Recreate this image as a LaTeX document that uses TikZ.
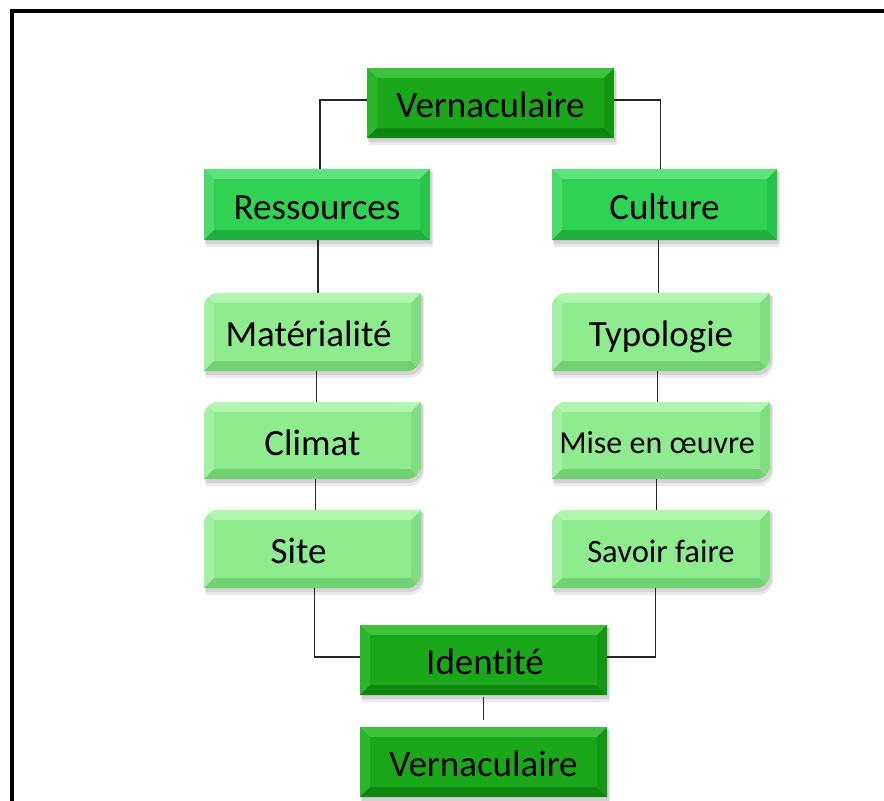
\documentclass[tikz,border=0pt]{standalone}
\usepackage{fontspec}
\setmainfont{Carlito}[Ligatures=NoCommon]

% palettes: face, top bevel, left bevel, bottom bevel, right bevel
\definecolor{darkface}{RGB}{26,168,26}
\definecolor{darktop}{RGB}{62,194,62}
\definecolor{darkleft}{RGB}{44,182,44}
\definecolor{darkbot}{RGB}{16,134,16}
\definecolor{darkright}{RGB}{20,152,20}
\definecolor{medface}{RGB}{48,210,84}
\definecolor{medtop}{RGB}{96,226,122}
\definecolor{medleft}{RGB}{76,218,104}
\definecolor{medbot}{RGB}{32,176,64}
\definecolor{medright}{RGB}{40,194,74}
\definecolor{liface}{RGB}{142,235,142}
\definecolor{litop}{RGB}{176,245,176}
\definecolor{lileft}{RGB}{162,241,162}
\definecolor{libot}{RGB}{114,210,114}
\definecolor{liright}{RGB}{128,222,128}

% outline of a box whose top-left and bottom-right corners carry radius #5
\newcommand\boxoutline[5]{%
  ({(#1)+(#5)},{#2}) -- ({#3},{#2}) -- ({#3},{(#4)-(#5)})
  .. controls ({#3},{(#4)-0.448*(#5)}) and ({(#3)-0.448*(#5)},{#4}) .. ({(#3)-(#5)},{#4})
  -- ({#1},{#4}) -- ({#1},{(#2)+(#5)})
  .. controls ({#1},{(#2)+0.448*(#5)}) and ({(#1)+0.448*(#5)},{#2}) .. ({(#1)+(#5)},{#2}) -- cycle}

% bevelled box: #1 name, #2 x1, #3 y1, #4 x2, #5 y2, #6 palette, #7 radius, #8 font size, #9 text
\newcommand\bevelbox[9]{%
  \fill[black,opacity=.10] \boxoutline{(#2)+1}{(#3)+2}{(#4)+2}{(#5)+4}{#7};
  \fill[black,opacity=.08] \boxoutline{(#2)+2}{(#3)+3}{(#4)+3}{(#5)+7}{#7};
  \begin{scope}
    \clip \boxoutline{#2}{#3}{#4}{#5}{#7};
    \fill[#6face] ({#2},{#3}) rectangle ({#4},{#5});
    \fill[#6top] ({#2},{#3}) -- ({#4},{#3}) -- ({(#4)-10},{(#3)+10}) -- ({(#2)+10},{(#3)+10}) -- cycle;
    \fill[#6left] ({#2},{#3}) -- ({(#2)+10},{(#3)+10}) -- ({(#2)+10},{(#5)-10}) -- ({#2},{#5}) -- cycle;
    \fill[#6bot] ({#2},{#5}) -- ({(#2)+10},{(#5)-10}) -- ({(#4)-10},{(#5)-10}) -- ({#4},{#5}) -- cycle;
    \fill[#6right] ({#4},{#3}) -- ({#4},{#5}) -- ({(#4)-10},{(#5)-10}) -- ({(#4)-10},{(#3)+10}) -- cycle;
    \fill[#6face] \boxoutline{(#2)+10}{(#3)+10}{(#4)-10}{(#5)-10}{0.5*(#7)};
  \end{scope}
  \node[boxtext, minimum width={((#4)-(#2))*0.5pt}, minimum height={((#5)-(#3))*0.5pt},
        font=\fontsize{#8}{#8}\selectfont] (#1) at ({((#2)+(#4))/2},{((#3)+(#5))/2})
        {\raisebox{-0.4em}[0pt][0pt]{#9}};
}

\tikzset{
  boxtext/.style={inner sep=0pt, outer sep=0pt, text=black, anchor=center},
  link/.style={draw=black!85, line width=0.75pt}
}

\begin{document}
\begin{tikzpicture}[x=0.5pt, y=-0.5pt]
  \useasboundingbox (0,0) rectangle (884,800);
  \clip (0,0) rectangle (884,800);
  \fill[white] (0,0) rectangle (884,800);

  % outer frame, running past the right and bottom edges
  \draw[line width=2pt] (12,11) rectangle (910,830);

  \bevelbox{vtop}{367}{68}{614}{138}{dark}{0}{18.5}{Vernaculaire}
  \bevelbox{ress}{204}{169}{430}{240}{med}{0}{18.5}{Ressources}
  \bevelbox{cult}{552}{169}{777}{240}{med}{0}{18.5}{Culture}
  \bevelbox{mat}{204}{293}{421}{371}{li}{14}{18.5}{\hspace*{-4pt}Matérialité}
  \bevelbox{clim}{204}{402}{421}{479}{li}{14}{18.5}{Climat}
  \bevelbox{site}{204}{510}{421}{588}{li}{14}{18.5}{\hspace*{-14pt}Site}
  \bevelbox{typo}{552}{293}{770}{371}{li}{14}{18.5}{Typologie}
  \bevelbox{mise}{552}{402}{770}{479}{li}{14}{16}{\hspace*{-4pt}Mise en œuvre}
  \bevelbox{sav}{552}{510}{770}{588}{li}{14}{16.3}{Savoir faire}
  \bevelbox{ident}{360}{625}{607}{695}{dark}{0}{18.5}{\hspace*{1.5pt}Identité}
  \bevelbox{vbot}{360}{727}{607}{797}{dark}{0}{18.5}{Vernaculaire}

  % connectors
  \draw[link] ([yshift=1.5pt]vtop.west) -| ([xshift=1.5pt]ress.north);
  \draw[link] ([yshift=1.5pt]vtop.east) -| ([xshift=-2pt]cult.north);
  \draw[link] ([xshift=0.5pt]ress.south) -- ([xshift=0.5pt]ress.south |- mat.north);
  \draw[link] ([xshift=2pt]mat.south) -- ([xshift=2pt]clim.north);
  \draw[link] ([xshift=1.5pt]clim.south) -- ([xshift=1.5pt]site.north);
  \draw[link] ([xshift=1pt]site.south) |- ([yshift=1.5pt]ident.west);
  \draw[link] ([xshift=-3pt]cult.south) -- ([xshift=-3pt]cult.south |- typo.north);
  \draw[link] ([xshift=-1.75pt]typo.south) -- ([xshift=-1.75pt]mise.north);
  \draw[link] ([xshift=-2.25pt]mise.south) -- ([xshift=-2.25pt]sav.north);
  \draw[link] ([xshift=-2.75pt]sav.south) |- ([yshift=1.5pt]ident.east);
  \draw[link] ([yshift=-1pt]ident.south) -- ([yshift=3.5pt]vbot.north);
\end{tikzpicture}
\end{document}
